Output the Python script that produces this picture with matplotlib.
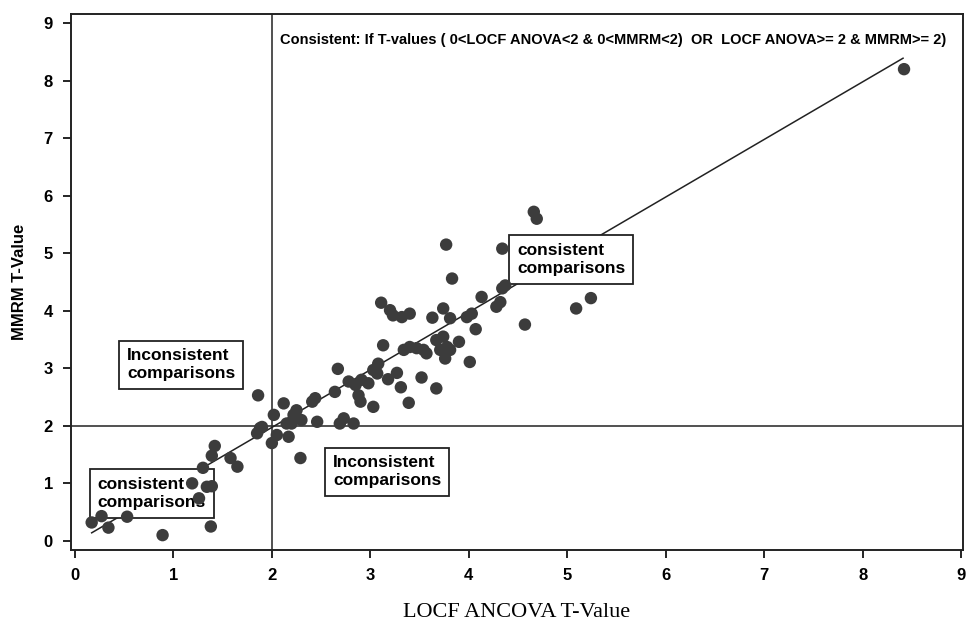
import matplotlib.pyplot as plt

# LOCF ANCOVA vs MMRM t-values
locf_t = [0.17, 0.27, 0.34, 0.53, 0.89, 1.19, 1.26, 1.30, 1.34, 1.39, 1.38, 1.39, 1.42,
          1.58, 1.65, 1.85, 1.86, 1.88, 1.90, 2.00, 2.02, 2.05, 2.12, 2.15, 2.17, 2.20,
          2.22, 2.25, 2.29, 2.30, 2.41, 2.44, 2.46, 2.64, 2.67, 2.69, 2.73, 2.78, 2.83,
          2.85, 2.88, 2.90, 2.91, 2.98, 3.03, 3.03, 3.07, 3.08, 3.11, 3.13, 3.18, 3.20,
          3.23, 3.27, 3.31, 3.32, 3.34, 3.39, 3.40, 3.40, 3.47, 3.52, 3.54, 3.57, 3.63,
          3.67, 3.67, 3.71, 3.74, 3.74, 3.76, 3.77, 3.78, 3.81, 3.81, 3.83, 3.90, 3.98,
          4.01, 4.03, 4.07, 4.13, 4.28, 4.32, 4.34, 4.34, 4.37, 4.57, 4.66, 4.69, 5.09,
          5.24, 8.42]
mmrm_t = [0.32, 0.43, 0.23, 0.42, 0.10, 1.00, 0.74, 1.27, 0.94, 0.95, 0.25, 1.48, 1.65,
          1.44, 1.29, 1.87, 2.53, 1.96, 1.98, 1.70, 2.19, 1.84, 2.39, 2.04, 1.81, 2.04,
          2.19, 2.27, 1.44, 2.10, 2.42, 2.48, 2.07, 2.59, 2.99, 2.04, 2.13, 2.77, 2.04,
          2.71, 2.53, 2.42, 2.80, 2.74, 2.97, 2.33, 2.91, 3.08, 4.14, 3.40, 2.81, 4.01,
          3.92, 2.92, 2.67, 3.89, 3.32, 2.40, 3.95, 3.37, 3.35, 2.84, 3.32, 3.26, 3.88,
          3.49, 2.65, 3.32, 4.04, 3.55, 3.17, 5.15, 3.37, 3.87, 3.32, 4.56, 3.46, 3.89,
          3.11, 3.95, 3.68, 4.24, 4.07, 4.15, 4.39, 5.08, 4.44, 3.76, 5.72, 5.60, 4.04,
          4.22, 8.20]

# fitted line end points
fit_x = [0.17, 8.41]
fit_y = [0.14, 8.39]

ticks = list(range(10))
cut = 2

plt.rcParams['font.family'] = ['Liberation Sans Narrow', 'Liberation Sans', 'DejaVu Sans']

fig = plt.figure(figsize=(9.66, 6.33), dpi=100)
ax = fig.add_axes([0.0735, 0.131, 0.9235, 0.847])

ax.scatter(locf_t, mmrm_t, s=80, color='#3c3c3c', edgecolors='none', zorder=3)
ax.plot(fit_x, fit_y, color='#222222', lw=1.1, zorder=2)
ax.axvline(cut, color='#333333', lw=1.2, zorder=1)
ax.axhline(cut, color='#333333', lw=1.2, zorder=1)

ax.set_xlim(-0.04, 9.02)
ax.set_ylim(-0.16, 9.16)
ax.set_xticks(ticks)
ax.set_yticks(ticks)
ax.tick_params(direction='out', length=6, width=1.2, labelsize=12, pad=7)
for lab in ax.get_xticklabels() + ax.get_yticklabels():
    lab.set_fontweight('bold')
for sp in ax.spines.values():
    sp.set_linewidth(1.4)
    sp.set_color('#222222')

ax.set_xlabel('LOCF ANCOVA T-Value', family=['Liberation Serif', 'DejaVu Serif'],
              fontsize=16, labelpad=14)
ax.set_ylabel('MMRM T-Value', fontsize=12, fontweight='bold', labelpad=12,
              family=['Liberation Sans', 'DejaVu Sans'])

ax.text(2.08, 8.7, 'Consistent: If T-values ( 0<LOCF ANOVA<2 & 0<MMRM<2)  OR  LOCF ANOVA>= 2 & MMRM>= 2)',
        fontsize=10.5, fontweight='bold', va='center', ha='left',
        family=['Liberation Sans', 'DejaVu Sans'])

box = dict(boxstyle='square,pad=0.45', fc='white', ec='#222222', lw=1.3)
labels = [(4.49, 4.89, 'consistent\ncomparisons'),
          (0.53, 3.06, 'Inconsistent\ncomparisons'),
          (2.62, 1.20, 'Inconsistent\ncomparisons'),
          (0.23, 0.82, 'consistent\ncomparisons')]
for x, y, t in labels:
    ax.text(x, y, t, fontsize=12.5, fontweight='bold', va='center', ha='left',
            linespacing=1.25, bbox=box, zorder=2,
            family=['Liberation Sans', 'DejaVu Sans'])

fig.savefig('out.png', dpi=100)
